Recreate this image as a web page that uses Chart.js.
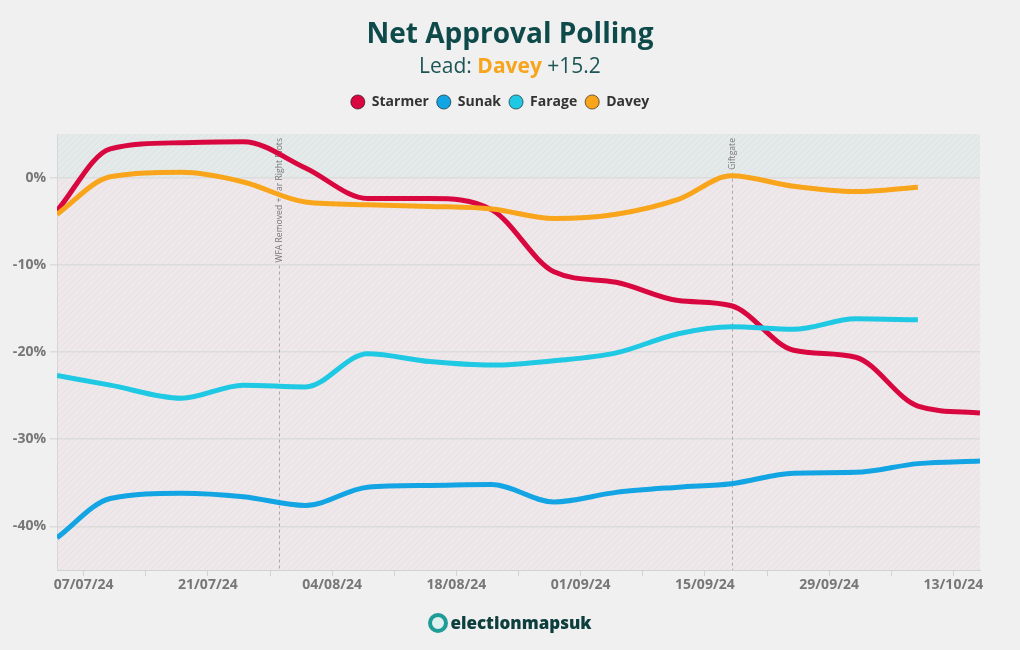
<!DOCTYPE html>
<html>
<head>
<meta charset="utf-8">
<script src="https://cdn.jsdelivr.net/npm/chart.js@4"></script>
<style>
  html, body { margin: 0; padding: 0; background: #f0f0f0; }
  #wrap { position: relative; width: 1020px; height: 650px; font-family: "Open Sans", sans-serif; }
  #title { position: absolute; top: 14px; left: 0; width: 1020px; text-align: center; font-size: 28px; font-weight: 700; color: #0f4a4a; line-height: 36px; }
  #sub { position: absolute; top: 51px; left: 0; width: 1020px; text-align: center; font-size: 21px; color: #1d5555; line-height: 28px; }
  #sub b { color: #f7a51c; }
  #logo { position: absolute; top: 611px; left: 0; width: 1020px; text-align: center; font-size: 17px; font-weight: 800; color: #0d3d3d; line-height: 24px; }
  #logo .ico { display: inline-block; box-sizing: border-box; width: 20px; height: 20px; border-radius: 50%; border: 4px solid #1f9c98; background: #dff1ef; vertical-align: -4px; margin-right: 2px; }
  canvas { position: absolute; top: 0; left: 0; }
</style>
</head>
<body>
<div id="wrap">
  <canvas id="chart" width="1020" height="650"></canvas>
  <div id="title">Net Approval Polling</div>
  <div id="sub">Lead: <b>Davey</b> +15.2</div>
  <div id="logo"><span class="ico"></span>electionmapsuk</div>
</div>
<script>
// 投票日 (dd/mm/yy)
const pollDates = ['04/07/24', '10/07/24', '18/07/24', '25/07/24', '01/08/24', '08/08/24', '15/08/24', '22/08/24',
    '29/08/24', '05/09/24', '12/09/24', '18/09/24', '25/09/24', '02/10/24', '09/10/24', '16/10/24'];

// 支持率 (net)
const starmer = [-3.8, 3.3, 4.0, 4.1, 1.1, -2.4, -2.4, -3.7, -10.8, -12.0, -14.1, -14.7, -19.8, -20.6, -26.2, -27.0];
const sunak = [-41.3, -36.8, -36.2, -36.6, -37.6, -35.5, -35.3, -35.2, -37.2, -36.1, -35.5, -35.1, -33.9, -33.8, -32.8, -32.5];
const farage = [-22.7, -23.8, -25.3, -23.8, -24.0, -20.2, -21.1, -21.5, -21.0, -20.1, -17.9, -17.1, -17.4, -16.2, -16.3];
const davey = [-4.2, 0.1, 0.6, -0.5, -2.8, -3.1, -3.3, -3.6, -4.7, -4.2, -2.5, 0.2, -1.0, -1.6, -1.1];

const leaders = ['Starmer', 'Sunak', 'Farage', 'Davey'];
const colors = ['#d9073f', '#13a4e4', '#1fc8e3', '#f9a51b'];

// 出来事
const eventDates = ['29/07/24', '18/09/24'];
const eventLabels = ['WFA Removed + Far Right Riots', 'Giftgate'];

const yTicks = [-40, -30, -20, -10, 0];

const START = Date.UTC(2024, 6, 4);
const DAY = 86400000;

function dayOf(s) {
    const [d, m, y] = s.split('/').map(Number);
    return (Date.UTC(2000 + y, m - 1, d) - START) / DAY;
}

function fmt(day) {
    const dt = new Date(START + day * DAY);
    const p = n => String(n).padStart(2, '0');
    return p(dt.getUTCDate()) + '/' + p(dt.getUTCMonth() + 1) + '/' + String(dt.getUTCFullYear()).slice(2);
}

function toPoints(values) {
    return values.map((v, i) => ({ x: dayOf(pollDates[i]), y: v }));
}

// 斜線パターン
function makeHatch(ctx, bg, line) {
    const c = document.createElement('canvas');
    c.width = 6; c.height = 6;
    const x = c.getContext('2d');
    x.fillStyle = bg;
    x.fillRect(0, 0, 6, 6);
    x.strokeStyle = line;
    x.lineWidth = 1;
    x.beginPath();
    x.moveTo(0, 6); x.lineTo(6, 0);
    x.moveTo(-1, 1); x.lineTo(1, -1);
    x.moveTo(5, 7); x.lineTo(7, 5);
    x.stroke();
    return ctx.createPattern(c, 'repeat');
}

const bgPlugin = {
    id: 'bgZones',
    beforeDraw(chart) {
        const { ctx, chartArea: a, scales } = chart;
        const y0 = scales.y.getPixelForValue(0);
        ctx.save();
        ctx.fillStyle = makeHatch(ctx, '#e4e9e9', '#dce2e2');
        ctx.fillRect(a.left, a.top, a.right - a.left, y0 - a.top);
        ctx.fillStyle = makeHatch(ctx, '#efe8ea', '#e7dfe2');
        ctx.fillRect(a.left, y0, a.right - a.left, a.bottom - y0);
        ctx.restore();
    }
};

const eventPlugin = {
    id: 'events',
    beforeDatasetsDraw(chart) {
        const { ctx, chartArea: a, scales } = chart;
        ctx.save();
        ctx.font = '8.6px "Open Sans", sans-serif';
        eventDates.forEach((d, i) => {
            const x = Math.round(scales.x.getPixelForValue(dayOf(d))) + 0.5;
            const w = ctx.measureText(eventLabels[i]).width;
            const top = a.top + 4;
            ctx.strokeStyle = '#a9a9a9';
            ctx.lineWidth = 1;
            ctx.setLineDash([3, 3]);
            ctx.beginPath();
            ctx.moveTo(x, top + w + 3);
            ctx.lineTo(x, a.bottom);
            ctx.stroke();
            ctx.save();
            ctx.translate(x, top);
            ctx.rotate(-Math.PI / 2);
            ctx.fillStyle = '#777';
            ctx.textAlign = 'right';
            ctx.textBaseline = 'middle';
            ctx.fillText(eventLabels[i], 0, 0);
            ctx.restore();
        });
        ctx.restore();
    }
};

// 凡例の位置調整
const legendSpace = {
    id: 'legendSpace',
    beforeInit(chart) {
        const fit = chart.legend.fit;
        chart.legend.fit = function () {
            fit.bind(chart.legend)();
            this.height += 15;
        };
    },
    afterLayout(chart) {
        chart.legend.left += 10;
        chart.legend.right += 10;
    }
};

const series = [starmer, sunak, farage, davey];

new Chart(document.getElementById('chart'), {
    type: 'line',
    data: {
        datasets: series.map((s, i) => ({
            label: leaders[i],
            data: toPoints(s),
            borderColor: colors[i],
            backgroundColor: colors[i],
            borderWidth: 5,
            pointRadius: 0,
            cubicInterpolationMode: 'monotone',
            order: 4 - i
        }))
    },
    options: {
        responsive: false,
        animation: false,
        layout: { padding: { top: 87, left: 0, right: 40, bottom: 50 } },
        plugins: {
            legend: {
                position: 'top',
                labels: {
                    usePointStyle: true,
                    pointStyle: 'circle',
                    boxHeight: 10,
                    padding: 8,
                    color: '#333',
                    font: { family: '"Open Sans", sans-serif', size: 14, weight: 'bold' },
                    sort: (a, b) => a.datasetIndex - b.datasetIndex,
                    generateLabels(chart) {
                        const items = Chart.defaults.plugins.legend.labels.generateLabels(chart);
                        items.forEach(it => {
                            it.lineWidth = 1;
                            it.strokeStyle = 'rgba(0,0,0,0.55)';
                        });
                        return items;
                    }
                }
            },
            tooltip: { enabled: false }
        },
        scales: {
            x: {
                type: 'linear',
                min: 0,
                max: 104,
                afterBuildTicks(s) {
                    const t = [];
                    for (let v = dayOf('07/07/24'); v <= 104; v += 7) t.push({ value: v });
                    s.ticks = t;
                },
                afterFit(s) { s.height = 30; },
                ticks: {
                    autoSkip: false,
                    maxRotation: 0,
                    padding: 1,
                    color: '#777',
                    font: { family: '"Open Sans", sans-serif', size: 14, weight: 'bold' },
                    callback: v => ((v - 3) % 14 === 0 ? fmt(v) : '')
                },
                grid: { drawOnChartArea: false, drawTicks: true, tickLength: 6, color: '#d2d2d2' },
                border: { color: '#d2d2d2' }
            },
            y: {
                min: -45,
                max: 5,
                afterBuildTicks(s) { s.ticks = yTicks.map(v => ({ value: v })); },
                afterFit(s) { s.width = 57; },
                ticks: {
                    padding: 4,
                    color: '#777',
                    font: { family: '"Open Sans", sans-serif', size: 14, weight: 'bold' },
                    callback: v => v + '%'
                },
                grid: { color: '#dcdcdc', lineWidth: 1.5, tickLength: 7 },
                border: { color: '#d6d6d6' }
            }
        }
    },
    plugins: [bgPlugin, eventPlugin, legendSpace]
});
</script>
</body>
</html>
